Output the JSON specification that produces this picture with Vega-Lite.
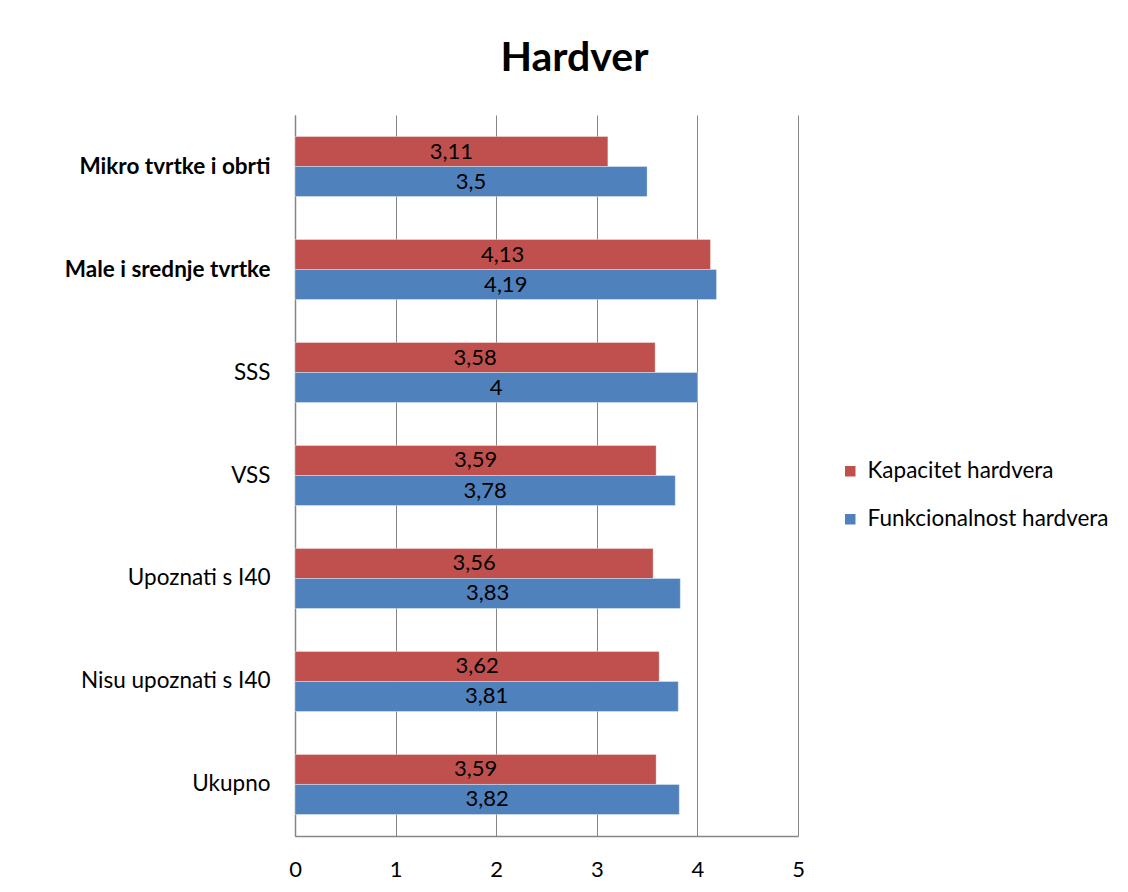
{
  "$schema": "https://vega.github.io/schema/vega-lite/v6.json",
  "width": 503,
  "height": 721,
  "autosize": {"type": "none"},
  "padding": {"left": 295, "top": 115, "right": 330, "bottom": 56},
  "background": "white",
  "config": {
    "font": "Lato",
    "view": {"stroke": null},
    "locale": {"number": {"decimal": ",", "thousands": ".", "grouping": [3], "currency": ["", " €"]}}
  },
  "title": {
    "text": "Hardver",
    "font": "Lato",
    "fontSize": 41,
    "fontWeight": "bold",
    "color": "#000000",
    "anchor": "middle",
    "frame": "group",
    "dx": 28,
    "offset": 35
  },
  "data": {
    "values": [
      {"grupa": "Mikro tvrtke i obrti", "serija": "Kapacitet hardvera", "vrijednost": 3.11},
      {"grupa": "Mikro tvrtke i obrti", "serija": "Funkcionalnost hardvera", "vrijednost": 3.5},
      {"grupa": "Male i srednje tvrtke", "serija": "Kapacitet hardvera", "vrijednost": 4.13},
      {"grupa": "Male i srednje tvrtke", "serija": "Funkcionalnost hardvera", "vrijednost": 4.19},
      {"grupa": "SSS", "serija": "Kapacitet hardvera", "vrijednost": 3.58},
      {"grupa": "SSS", "serija": "Funkcionalnost hardvera", "vrijednost": 4},
      {"grupa": "VSS", "serija": "Kapacitet hardvera", "vrijednost": 3.59},
      {"grupa": "VSS", "serija": "Funkcionalnost hardvera", "vrijednost": 3.78},
      {"grupa": "Upoznati s I40", "serija": "Kapacitet hardvera", "vrijednost": 3.56},
      {"grupa": "Upoznati s I40", "serija": "Funkcionalnost hardvera", "vrijednost": 3.83},
      {"grupa": "Nisu upoznati s I40", "serija": "Kapacitet hardvera", "vrijednost": 3.62},
      {"grupa": "Nisu upoznati s I40", "serija": "Funkcionalnost hardvera", "vrijednost": 3.81},
      {"grupa": "Ukupno", "serija": "Kapacitet hardvera", "vrijednost": 3.59},
      {"grupa": "Ukupno", "serija": "Funkcionalnost hardvera", "vrijednost": 3.82}
    ]
  },
  "encoding": {
    "y": {
      "field": "grupa",
      "type": "nominal",
      "sort": ["Mikro tvrtke i obrti", "Male i srednje tvrtke", "SSS", "VSS", "Upoznati s I40", "Nisu upoznati s I40", "Ukupno"],
      "scale": {"paddingInner": 0.417, "paddingOuter": 0.209},
      "axis": {
        "title": null,
        "domain": true,
        "domainColor": "#868686",
        "domainWidth": 1.5,
        "ticks": false,
        "labelPadding": 25,
        "labelFont": "Lato",
        "labelFontSize": 22.5,
        "labelColor": "#000000",
        "labelFontWeight": {"condition": {"test": "datum.value == 'Mikro tvrtke i obrti' || datum.value == 'Male i srednje tvrtke'", "value": "bold"}, "value": "normal"},
        "labelLimit": 300
      }
    },
    "yOffset": {
      "field": "serija",
      "type": "nominal",
      "sort": ["Kapacitet hardvera", "Funkcionalnost hardvera"],
      "scale": {"paddingInner": 0, "paddingOuter": 0}
    }
  },
  "layer": [
    {
      "mark": {"type": "bar", "stroke": "#ffffff", "strokeOpacity": 0.35, "strokeWidth": 1},
      "encoding": {
        "x": {
          "field": "vrijednost",
          "type": "quantitative",
          "scale": {"domain": [0, 5], "nice": false},
          "axis": {
            "title": null,
            "values": [0, 1, 2, 3, 4, 5],
            "format": "d",
            "grid": true,
            "gridColor": "#868686",
            "gridWidth": 1,
            "domain": true,
            "domainColor": "#868686",
            "domainWidth": 1.5,
            "ticks": false,
            "labelPadding": 23,
            "labelFont": "Lato",
            "labelFontSize": 22,
            "labelColor": "#000000",
            "labelFlush": false
          }
        },
        "color": {
          "field": "serija",
          "type": "nominal",
          "scale": {"domain": ["Kapacitet hardvera", "Funkcionalnost hardvera"], "range": ["#C0504D", "#4F81BD"]},
          "legend": {
            "title": null,
            "orient": "none",
            "legendX": 544,
            "legendY": 345,
            "symbolType": "square",
            "symbolSize": 110,
            "symbolStrokeWidth": 0,
            "labelFont": "Lato",
            "labelFontSize": 22.5,
            "labelColor": "#000000",
            "labelOffset": 6,
            "rowPadding": 25,
            "labelLimit": 400
          }
        }
      }
    },
    {
      "transform": [{"calculate": "datum.vrijednost / 2", "as": "sredina"}],
      "mark": {"type": "text", "font": "Lato", "fontSize": 22, "color": "#000000", "baseline": "middle", "align": "center"},
      "encoding": {
        "x": {"field": "sredina", "type": "quantitative"},
        "text": {"field": "vrijednost", "type": "quantitative", "format": "~g"}
      }
    }
  ]
}
